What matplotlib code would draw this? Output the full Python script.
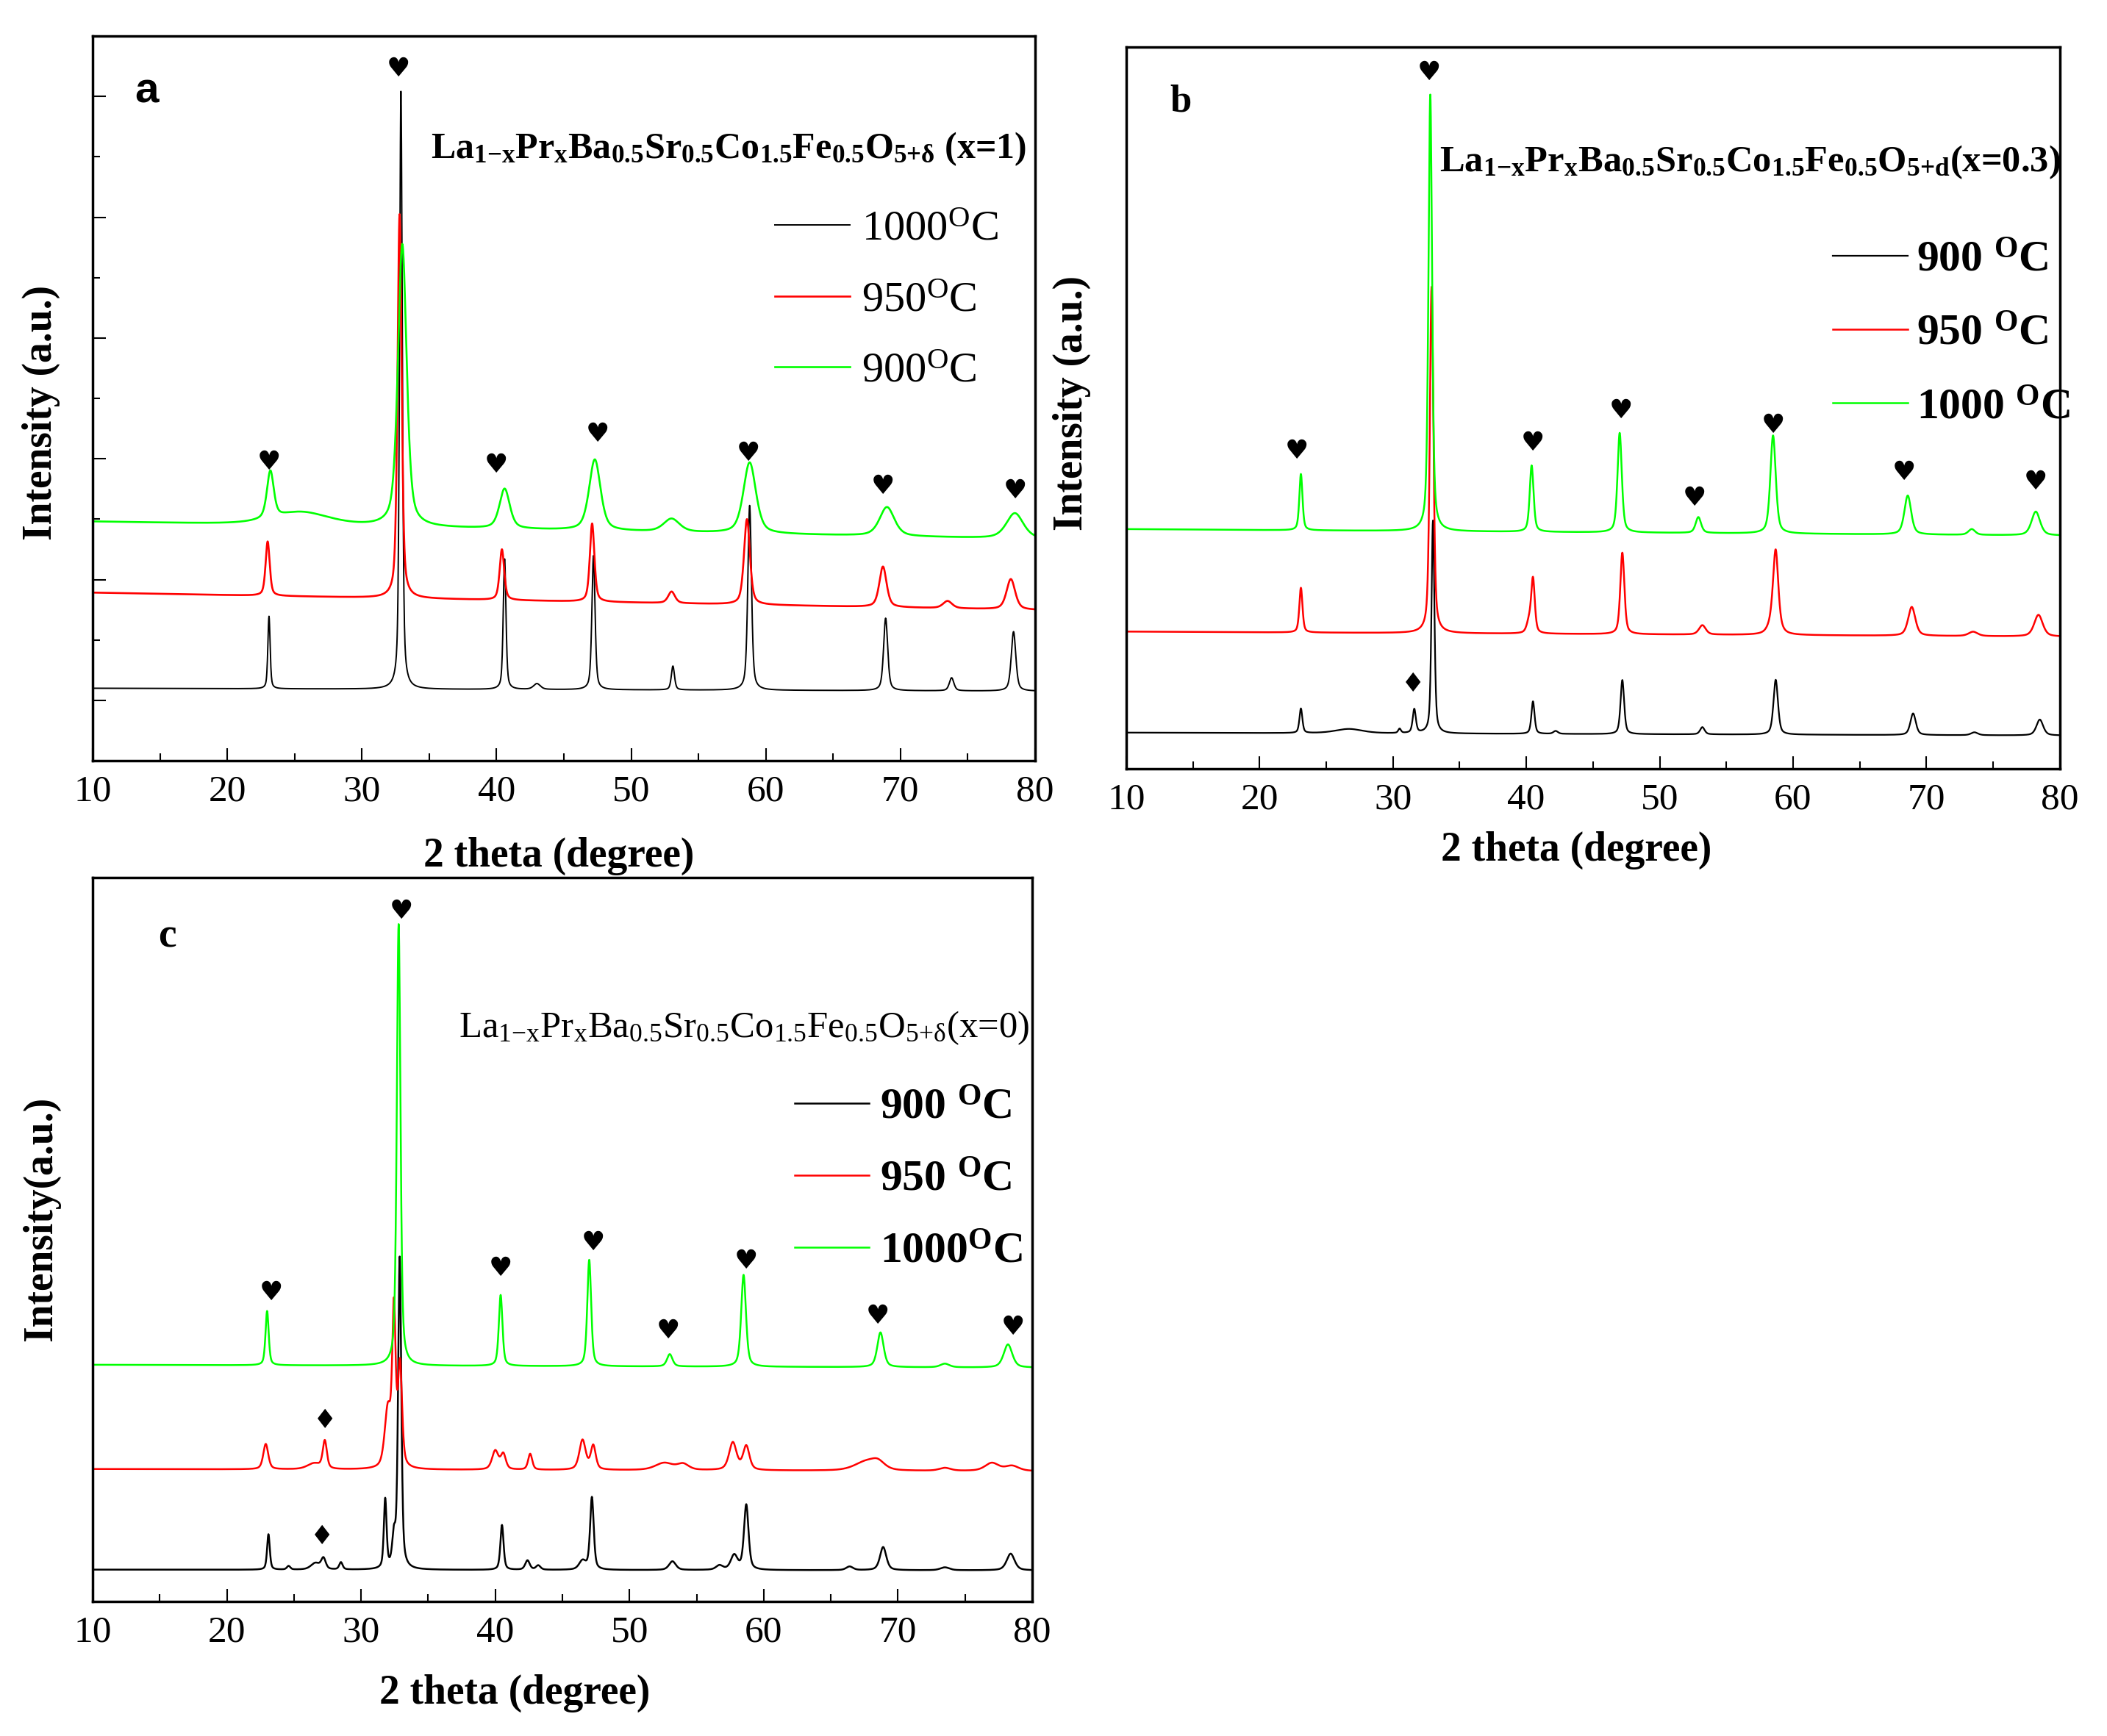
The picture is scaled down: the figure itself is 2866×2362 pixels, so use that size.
import numpy as np
import matplotlib
matplotlib.use('Agg')
import matplotlib.pyplot as plt
from matplotlib.ticker import MultipleLocator

plt.rcParams['font.family'] = ['Liberation Serif', 'DejaVu Sans']
plt.rcParams['mathtext.fontset'] = 'custom'
plt.rcParams['mathtext.rm'] = 'Liberation Serif'
plt.rcParams['mathtext.it'] = 'Liberation Serif:italic'
plt.rcParams['mathtext.bf'] = 'Liberation Serif:bold'
plt.rcParams['mathtext.default'] = 'regular'

# peaks: (2theta, height above background, half width)
# intensities are in % of the plot height
a_1000 = [(23.1, 10.0, 0.10), (32.9, 82.5, 0.12), (40.6, 18.0, 0.12), (43.0, 0.8, 0.3),
          (47.2, 18.5, 0.14), (53.1, 3.3, 0.14), (58.8, 25.5, 0.16), (68.9, 10.0, 0.18),
          (73.8, 1.8, 0.2), (78.4, 8.2, 0.2)]
a_950 = [(23.0, 7.5, 0.18), (32.8, 53.0, 0.18), (40.4, 7.0, 0.2), (47.1, 10.8, 0.2),
         (53.0, 1.6, 0.3), (58.6, 11.8, 0.26), (68.7, 5.6, 0.32), (73.5, 1.0, 0.4),
         (78.2, 4.2, 0.38)]
a_900 = [(25.5, 1.8, 2.5), (23.2, 6.5, 0.3), (33.0, 39.0, 0.38),
         (40.6, 5.5, 0.45), (47.3, 9.8, 0.5), (53.0, 1.8, 0.7), (58.8, 9.8, 0.55),
         (69.0, 4.0, 0.65), (78.5, 3.5, 0.75)]
a_base = {'1000': (10.0, 9.6), '950': (23.2, 20.8), '900': (33.0, 30.6)}

b_900 = [(23.1, 3.4, 0.13), (26.7, 0.6, 1.2), (30.5, 0.6, 0.12), (31.6, 3.3, 0.14),
         (33.0, 29.5, 0.13), (40.5, 4.5, 0.14), (42.2, 0.4, 0.2), (47.2, 7.5, 0.16),
         (53.2, 1.0, 0.2), (58.7, 7.6, 0.2), (69.0, 3.0, 0.24), (73.6, 0.4, 0.3),
         (78.5, 2.2, 0.3)]
b_950 = [(23.1, 6.2, 0.14), (32.9, 48.0, 0.16), (40.2, 1.5, 0.2), (40.5, 7.5, 0.16),
         (47.2, 11.3, 0.18), (53.2, 1.3, 0.3), (58.6, 2.5, 0.4), (58.7, 9.5, 0.22),
         (68.9, 4.0, 0.32), (73.5, 0.6, 0.4), (78.4, 3.0, 0.38)]
b_1000 = [(23.1, 7.8, 0.14), (32.8, 60.5, 0.16), (40.4, 9.2, 0.17), (47.0, 13.8, 0.19),
          (52.9, 2.2, 0.24), (58.5, 13.6, 0.24), (68.6, 5.4, 0.3), (73.4, 0.8, 0.3),
          (78.2, 3.3, 0.38)]
b_base = {'900': (5.0, 4.6), '950': (19.0, 18.3), '1000': (33.2, 32.3)}

c_900 = [(23.1, 4.9, 0.12), (24.6, 0.5, 0.15), (26.6, 0.9, 0.4), (27.2, 1.5, 0.2),
         (28.5, 1.0, 0.15), (31.8, 9.5, 0.12), (32.45, 4.0, 0.15), (32.88, 43.0, 0.14),
         (40.5, 6.2, 0.14), (42.4, 1.3, 0.2), (43.2, 0.6, 0.2), (46.5, 1.2, 0.3),
         (47.2, 10.0, 0.16), (53.2, 1.2, 0.3), (56.7, 0.6, 0.3), (57.8, 2.0, 0.3),
         (58.7, 9.0, 0.2), (66.4, 0.5, 0.3), (68.9, 3.2, 0.28), (73.5, 0.4, 0.4),
         (78.4, 2.3, 0.35)]
c_950 = [(22.9, 3.5, 0.22), (26.5, 0.8, 0.6), (27.3, 3.8, 0.18), (32.0, 8.0, 0.28),
         (32.45, 21.0, 0.15), (32.9, 14.0, 0.18), (40.0, 2.6, 0.28), (40.6, 2.1, 0.22),
         (42.6, 2.2, 0.18), (46.5, 4.1, 0.28), (47.3, 3.3, 0.22), (52.6, 1.0, 0.8),
         (54.0, 0.8, 0.5), (57.7, 3.8, 0.33), (58.7, 3.3, 0.28), (67.6, 1.2, 1.0),
         (68.5, 1.0, 0.6), (73.5, 0.4, 0.5), (77.0, 1.1, 0.6), (78.5, 0.7, 0.6)]
c_1000 = [(23.0, 7.5, 0.14), (32.8, 61.0, 0.16), (40.4, 9.8, 0.16), (47.0, 14.7, 0.17),
          (53.0, 1.7, 0.24), (58.5, 12.7, 0.21), (68.7, 4.8, 0.28), (73.5, 0.5, 0.4),
          (78.2, 3.2, 0.38)]
c_base = {'900': (4.4, 4.3), '950': (18.3, 18.0), '1000': (32.7, 32.3)}

# peak markers
a_heart_x = [23.1, 32.7, 40.0, 47.5, 58.7, 68.7, 78.5]
a_heart_y = [41.2, 95.4, 40.8, 45.0, 42.4, 37.8, 37.2]
b_heart_x = [22.8, 32.7, 40.5, 47.1, 52.6, 58.5, 68.3, 78.2]
b_heart_y = [44.0, 96.4, 45.1, 49.6, 37.5, 47.6, 41.0, 39.7]
b_diam_x = [31.5]
b_diam_y = [11.7]
c_heart_x = [23.3, 33.0, 40.4, 47.3, 52.9, 58.7, 68.5, 78.6]
c_heart_y = [42.6, 95.3, 46.0, 49.5, 37.4, 47.0, 39.4, 37.9]
c_diam_x = [27.3, 27.1]
c_diam_y = [25.0, 8.9]

two_theta = np.arange(10, 80.001, 0.02)


def pattern(peaks, base):
    y = base[0] + (base[1] - base[0]) * (two_theta - 10) / 70
    for c, h, w in peaks:
        u = (two_theta - c) / w
        y = y + h * (0.5 * np.exp(-np.log(2) * u ** 2) + 0.5 / (1 + u ** 2))
    return y


def setup(ax):
    ax.set_xlim(10, 80)
    ax.set_ylim(0, 100)
    ax.xaxis.set_major_locator(MultipleLocator(10))
    ax.xaxis.set_minor_locator(MultipleLocator(5))
    ax.tick_params(axis='x', which='major', direction='in', length=12, width=1.5,
                   labelsize=37, pad=14, top=False)
    ax.tick_params(axis='x', which='minor', direction='in', length=7, width=1.5, top=False)
    ax.tick_params(axis='y', which='both', left=False, right=False, labelleft=False)
    for s in ax.spines.values():
        s.set_linewidth(2.5)


def marks(ax, xs, ys, sym):
    for x, y in zip(xs, ys):
        ax.text(x, y, sym, ha='center', va='center', fontsize=26, family='DejaVu Sans')


formula = r'La$_{1{-}x}$Pr$_{x}$Ba$_{0.5}$Sr$_{0.5}$Co$_{1.5}$Fe$_{0.5}$O$_{5{+}%s}$'

fig = plt.figure(figsize=(28.66, 23.62), dpi=100)

# ---- a
ax = fig.add_axes([0.04396, 0.5618, 0.4473, 0.4174])
setup(ax)
ax.yaxis.set_major_locator(MultipleLocator(100 / 6, offset=100 / 12))
ax.yaxis.set_minor_locator(MultipleLocator(100 / 12))
ax.tick_params(axis='y', which='major', left=True, direction='in', length=13, width=1.5)
ax.tick_params(axis='y', which='minor', left=True, direction='in', length=7, width=1.5)
ax.plot(two_theta, pattern(a_1000, a_base['1000']), color='black', lw=1.4, label='1000$^{O}$C')
ax.plot(two_theta, pattern(a_950, a_base['950']), color='#ff0000', lw=1.9, label='950$^{O}$C')
ax.plot(two_theta, pattern(a_900, a_base['900']), color='#00ff00', lw=1.9, label='900$^{O}$C')
marks(ax, a_heart_x, a_heart_y, '\u2665')
ax.text(13.1, 92.4, 'a', fontsize=42, fontweight='bold', family='Liberation Sans', va='center')
ax.text(35.1, 84.4, formula % 'δ' + ' (x=1)', fontsize=36, fontweight='bold', va='center')
ax.legend(loc='upper left', bbox_to_anchor=(0.724, 0.76), frameon=False, fontsize=42,
          handlelength=1.74, handletextpad=0.28, labelspacing=0.75, borderpad=0, borderaxespad=0)
ax.set_xlabel('2 theta (degree)', fontsize=40, fontweight='bold')
ax.set_ylabel('Intensity (a.u.)', fontsize=40, fontweight='bold')
ax.xaxis.set_label_coords(0.495, -0.105)
ax.yaxis.set_label_coords(-0.034, 0.48)

# ---- b
ax = fig.add_axes([0.5345, 0.5572, 0.4431, 0.4157])
setup(ax)
ax.plot(two_theta, pattern(b_900, b_base['900']), color='black', lw=1.6, label='900 $^{O}$C')
ax.plot(two_theta, pattern(b_950, b_base['950']), color='#ff0000', lw=1.8, label='950 $^{O}$C')
ax.plot(two_theta, pattern(b_1000, b_base['1000']), color='#00ff00', lw=1.8, label='1000 $^{O}$C')
marks(ax, b_heart_x, b_heart_y, '\u2665')
marks(ax, b_diam_x, b_diam_y, '\u2666')
ax.text(13.3, 92.4, 'b', fontsize=38, fontweight='bold', va='center')
ax.text(33.5, 84.0, formula % 'd' + '(x=0.3)', fontsize=36.4, fontweight='bold', va='center')
ax.legend(loc='upper left', bbox_to_anchor=(0.757, 0.732), frameon=False,
          prop={'size': 43, 'weight': 'bold'},
          handlelength=1.7, handletextpad=0.2, labelspacing=0.76, borderpad=0, borderaxespad=0)
ax.set_xlabel('2 theta (degree)', fontsize=40, fontweight='bold')
ax.set_ylabel('Intensity (a.u.)', fontsize=40, fontweight='bold')
ax.xaxis.set_label_coords(0.482, -0.086)
ax.yaxis.set_label_coords(-0.038, 0.507)

# ---- c
ax = fig.add_axes([0.04396, 0.07748, 0.4459, 0.4170])
setup(ax)
ax.plot(two_theta, pattern(c_900, c_base['900']), color='black', lw=1.8, label='900 $^{O}$C')
ax.plot(two_theta, pattern(c_950, c_base['950']), color='#ff0000', lw=1.8, label='950 $^{O}$C')
ax.plot(two_theta, pattern(c_1000, c_base['1000']), color='#00ff00', lw=1.8, label='1000$^{O}$C')
marks(ax, c_heart_x, c_heart_y, '\u2665')
marks(ax, c_diam_x, c_diam_y, '\u2666')
ax.text(14.9, 91.8, 'c', fontsize=40, fontweight='bold', va='center')
ax.text(37.3, 79.2, formula % 'δ' + '(x=0)', fontsize=36.5, va='center')
ax.legend(loc='upper left', bbox_to_anchor=(0.747, 0.71), frameon=False,
          prop={'size': 43, 'weight': 'bold'},
          handlelength=1.7, handletextpad=0.25, labelspacing=0.73, borderpad=0, borderaxespad=0)
ax.set_xlabel('2 theta (degree)', fontsize=40, fontweight='bold')
ax.set_ylabel('Intensity(a.u.)', fontsize=40, fontweight='bold')
ax.xaxis.set_label_coords(0.449, -0.10)
ax.yaxis.set_label_coords(-0.034, 0.529)

fig.savefig('out.png', dpi=100)
